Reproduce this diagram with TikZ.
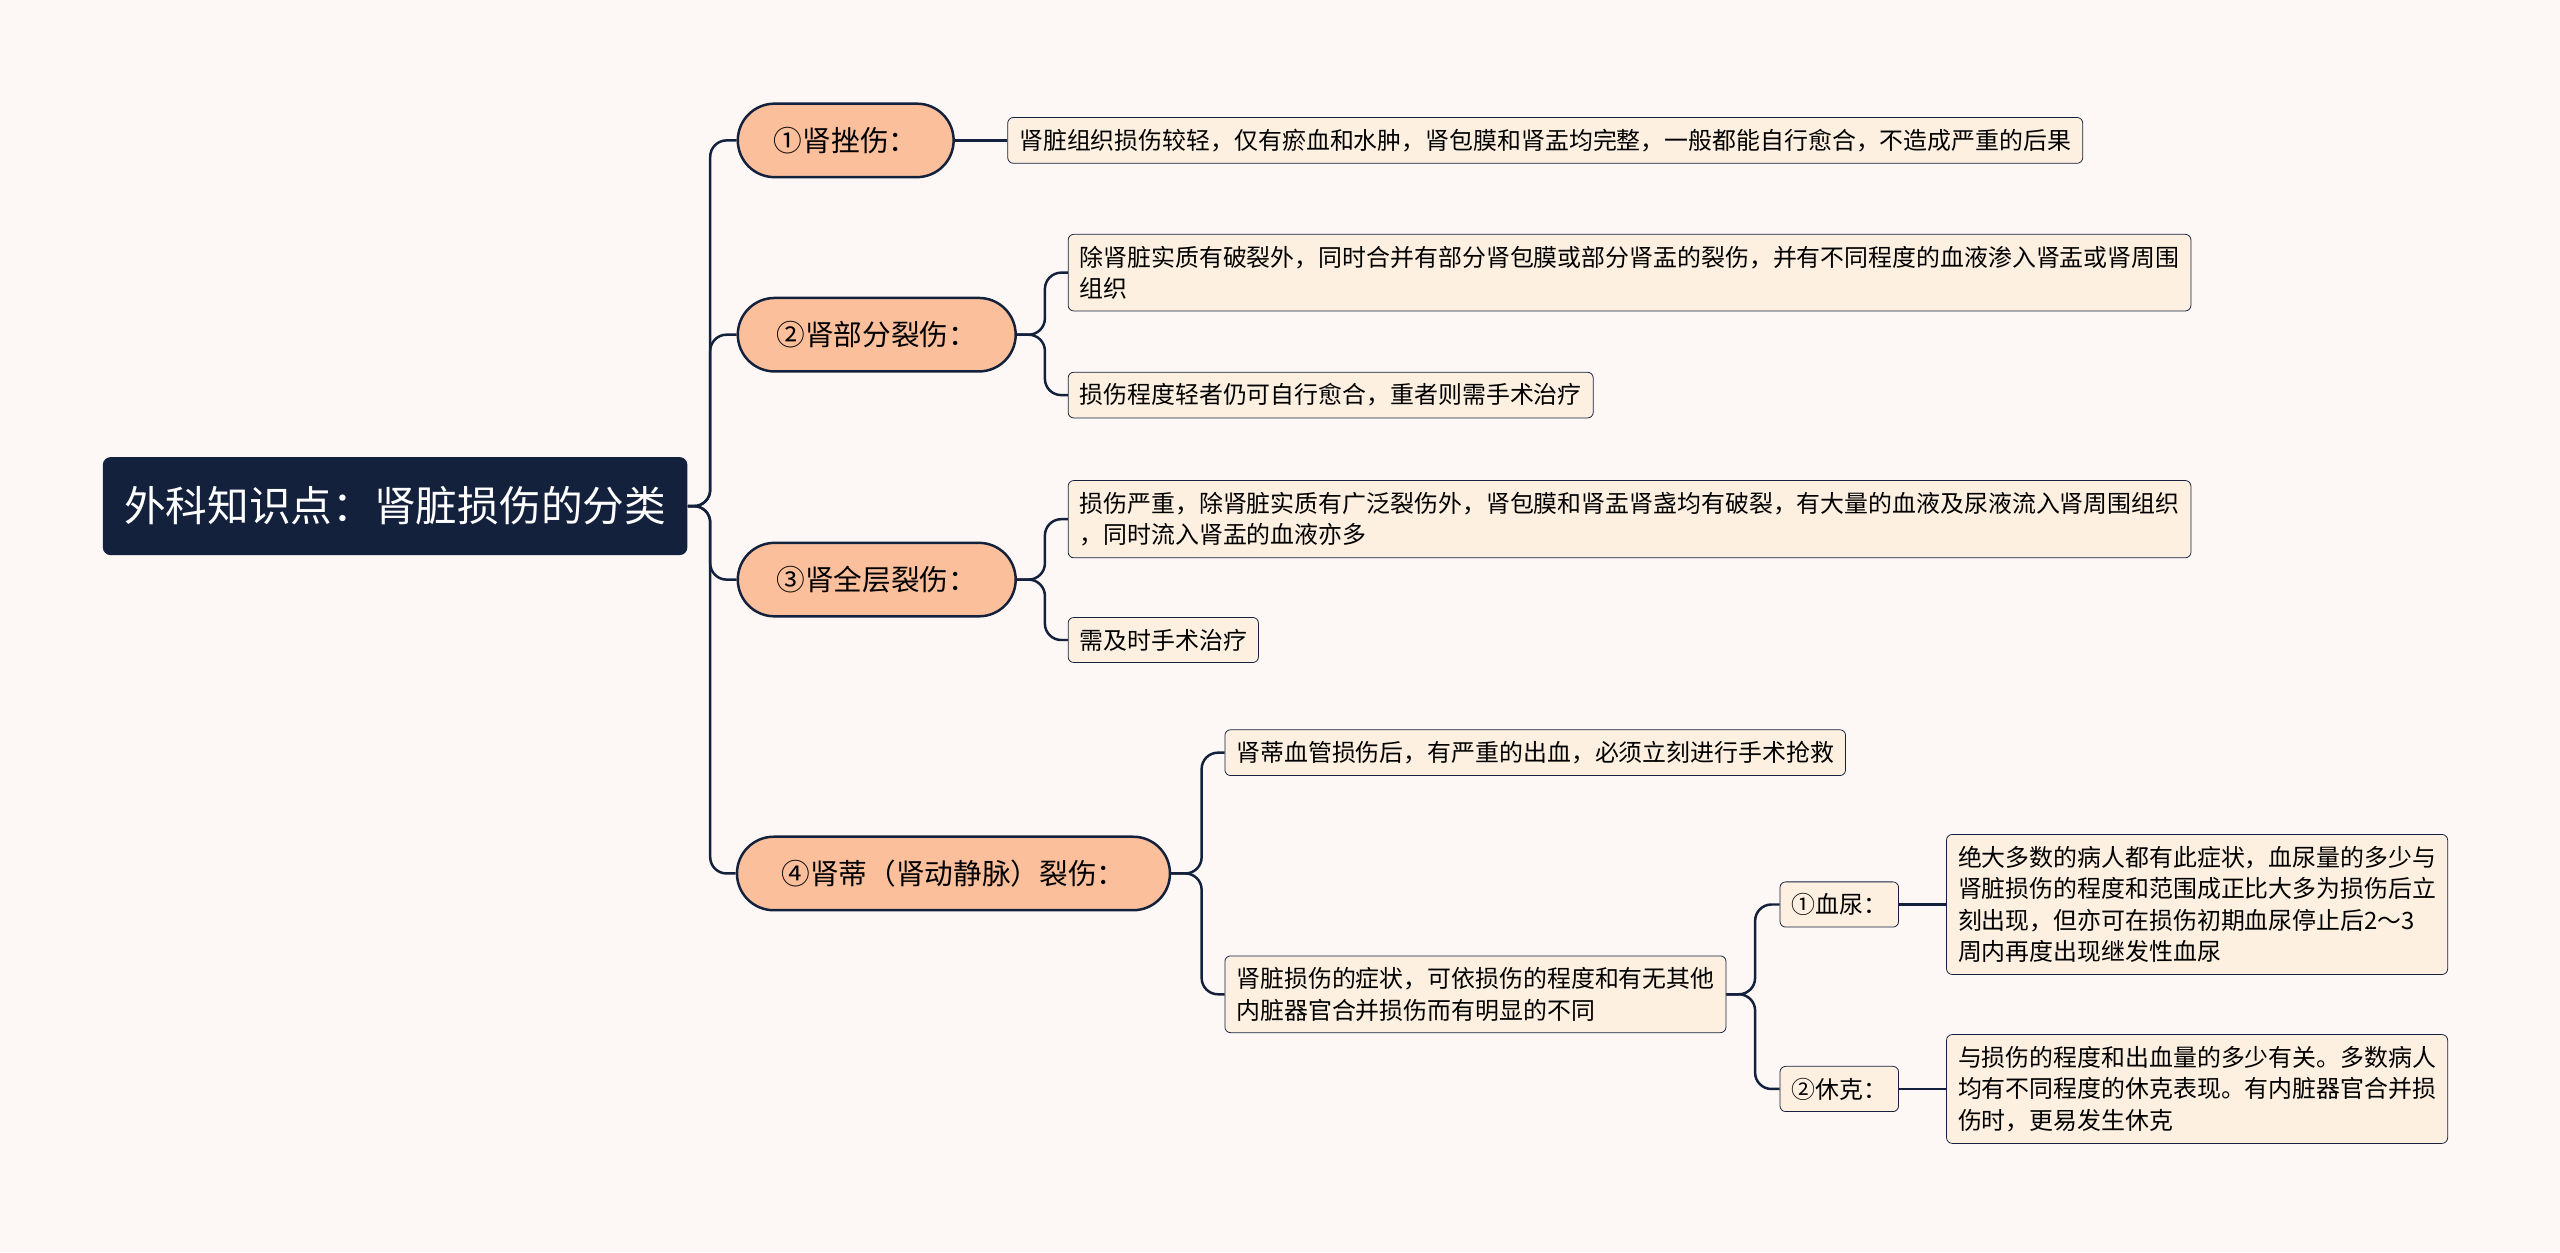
\documentclass[tikz,border=0pt]{standalone}
\usepackage{fontspec}
\setmainfont{Noto Sans CJK SC}
\usetikzlibrary{shapes.misc}
\definecolor{bgc}{HTML}{FDF8F6}
\definecolor{navy}{HTML}{14213D}
\definecolor{peach}{HTML}{FBBF9B}
\definecolor{cream}{HTML}{FDF0E0}
\tikzstyle{root}=[shape=rectangle,
                  fill=navy,
                  rounded corners=4pt,
                  text=white,
                  font=\fontsize{21.8}{26}\selectfont,
                  minimum width=10.74cm,
                  minimum height=1.8cm]
\tikzstyle{topic}=[shape=rounded rectangle,
                   draw=navy,
                   fill=peach,
                   line width=1.3pt,
                   font=\fontsize{15}{18}\selectfont,
                   minimum height=1.35cm]
\tikzstyle{leaf}=[shape=rectangle,
                  draw=navy,
                  fill=cream,
                  rounded corners=3pt,
                  anchor=west,
                  align=left,
                  inner sep=6pt,
                  font=\fontsize{12.5}{16.5}\selectfont]
\tikzstyle{link}=[draw=navy,line width=1.3pt,rounded corners=0.3cm]

\begin{document}
\begin{tikzpicture}[x=0.03cm,y=-0.03cm]
\fill[bgc] (0,0) rectangle (1568,767);

% root
\node[root] (r) at (242,310) {外科知识点：肾脏损伤的分类};

% main topics
\node[topic, minimum width=4.2cm] (t1) at (518,86) {①肾挫伤：};
\node[topic, minimum width=5.34cm] (t2) at (537,205) {②肾部分裂伤：};
\node[topic, minimum width=5.34cm] (t3) at (537,355) {③肾全层裂伤：};
\node[topic, minimum width=8.19cm] (t4) at (584,535) {④肾蒂（肾动静脉）裂伤：};

% details
\node[leaf] (a1) at (617,86) {肾脏组织损伤较轻，仅有瘀血和水肿，肾包膜和肾盂均完整，一般都能自行愈合，不造成严重的后果};
\node[leaf] (b1) at (654,167) {除肾脏实质有破裂外，同时合并有部分肾包膜或部分肾盂的裂伤，并有不同程度的血液渗入肾盂或肾周围\\组织};
\node[leaf] (b2) at (654,242) {损伤程度轻者仍可自行愈合，重者则需手术治疗};
\node[leaf] (c1) at (654,318) {损伤严重，除肾脏实质有广泛裂伤外，肾包膜和肾盂肾盏均有破裂，有大量的血液及尿液流入肾周围组织\\，同时流入肾盂的血液亦多};
\node[leaf] (c2) at (654,392) {需及时手术治疗};
\node[leaf] (d1) at (750,461) {肾蒂血管损伤后，有严重的出血，必须立刻进行手术抢救};
\node[leaf] (d2) at (750,609) {肾脏损伤的症状，可依损伤的程度和有无其他\\内脏器官合并损伤而有明显的不同};
\node[leaf] (e1) at (1090,554) {①血尿：};
\node[leaf] (e2) at (1090,667) {②休克：};
\node[leaf] (f1) at (1192,554) {绝大多数的病人都有此症状，血尿量的多少与\\肾脏损伤的程度和范围成正比大多为损伤后立\\刻出现，但亦可在损伤初期血尿停止后2～3\\周内再度出现继发性血尿};
\node[leaf] (f2) at (1192,667) {与损伤的程度和出血量的多少有关。多数病人\\均有不同程度的休克表现。有内脏器官合并损\\伤时，更易发生休克};

% connectors
\foreach \t in {t1,t2,t3,t4}
  \draw[link] (r.east) -- (435,310) |- (\t.west);
\draw[link] (t1.east) -- (a1.west);
\foreach \l in {b1,b2}
  \draw[link] (t2.east) -- (640,205) |- (\l.west);
\foreach \l in {c1,c2}
  \draw[link] (t3.east) -- (640,355) |- (\l.west);
\foreach \l in {d1,d2}
  \draw[link] (t4.east) -- (736,535) |- (\l.west);
\foreach \l in {e1,e2}
  \draw[link] (d2.east) -- (1075,609) |- (\l.west);
\draw[link] (e1.east) -- (f1.west);
\draw[link] (e2.east) -- (f2.west);
\end{tikzpicture}
\end{document}
